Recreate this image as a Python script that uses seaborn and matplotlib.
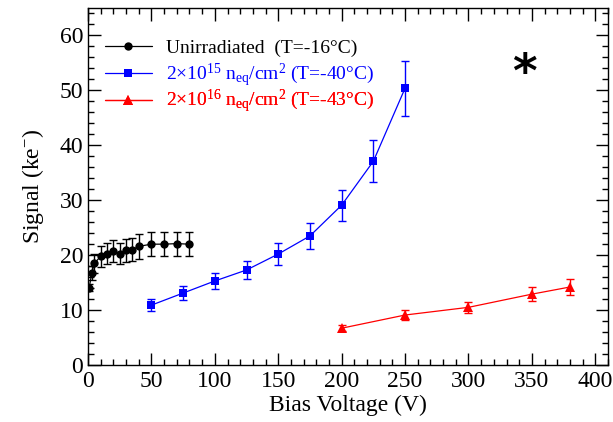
import numpy as np
import pandas as pd
import matplotlib
matplotlib.use("Agg")
import matplotlib.pyplot as plt
from matplotlib.ticker import MultipleLocator
import seaborn as sns

# ---- data ----
unirr_v = [1, 3, 5, 10, 15, 20, 25, 30, 35, 40, 50, 60, 70, 80]
unirr_s = [14.1, 16.8, 18.5, 19.8, 20.3, 20.7, 20.3, 20.9, 21.0, 21.6, 22.0, 22.0, 22.1, 22.0]
unirr_e = [0.7, 1.3, 1.7, 1.9, 2.0, 2.0, 2.0, 2.1, 2.1, 2.3, 2.2, 2.2, 2.2, 2.2]

f15_v = [50, 75, 100, 125, 150, 175, 200, 225, 250]
f15_s = [10.9, 13.1, 15.3, 17.3, 20.2, 23.5, 29.1, 37.1, 50.4]
f15_e = [1.1, 1.3, 1.5, 1.7, 2.0, 2.3, 2.8, 3.8, 5.0]

f16_v = [200, 250, 300, 350, 380]
f16_s = [6.7, 9.1, 10.5, 12.9, 14.2]
f16_e = [0.5, 0.9, 1.0, 1.3, 1.5]

labels = ["Unirradiated  (T=-16\u00b0C)",
          "2\u00d710$^{15}$ n$_{\\mathrm{eq}}$/cm$^{2}$ (T=-40\u00b0C)",
          "2\u00d710$^{16}$ n$_{\\mathrm{eq}}$/cm$^{2}$ (T=-43\u00b0C)"]
colors = ["black", "#0000ff", "#ff0000"]
markers = ["o", "s", "^"]
msizes = [6, 6, 7]

sns.set_theme(style="ticks")
plt.rcParams["font.family"] = ["Liberation Serif", "DejaVu Serif"]
plt.rcParams["mathtext.fontset"] = "custom"
plt.rcParams["mathtext.rm"] = "Liberation Serif"
plt.rcParams["mathtext.it"] = "Liberation Serif:italic"
plt.rcParams["mathtext.bf"] = "Liberation Serif:bold"
plt.rcParams["text.color"] = "black"
plt.rcParams["axes.labelcolor"] = "black"

fig = plt.figure(figsize=(6.13, 4.22), dpi=100)
ax = fig.add_axes([88/613, 57/422, 520/613, 357/422])

series = [(unirr_v, unirr_s, unirr_e), (f15_v, f15_s, f15_e), (f16_v, f16_s, f16_e)]
for (v, s, e), lab, c, m, ms in zip(series, labels, colors, markers, msizes):
    df = pd.DataFrame({"V": v, "S": s, "E": e})
    sns.lineplot(data=df, x="V", y="S", ax=ax, color=c, marker=m, markersize=ms,
                 markeredgewidth=0, linewidth=0.9, label=lab, zorder=3)
    ax.errorbar(df["V"], df["S"], yerr=df["E"], fmt="none", ecolor=c,
                elinewidth=1.0, capsize=3, capthick=1.0, zorder=2)

ax.set_xlim(0, 410)
ax.set_ylim(0, 65)
ax.xaxis.set_major_locator(MultipleLocator(50))
ax.xaxis.set_minor_locator(MultipleLocator(10))
ax.yaxis.set_major_locator(MultipleLocator(10))
ax.yaxis.set_minor_locator(MultipleLocator(2))
ax.tick_params(which="both", direction="in", top=True, right=True, width=1.0,
               labelsize=17, colors="black")
ax.tick_params(which="major", length=9)
ax.tick_params(which="minor", length=4.5)
ax.tick_params(axis="x", pad=4)
for sp in ax.spines.values():
    sp.set_linewidth(1.0)
    sp.set_color("black")

ax.set_xlabel("Bias Voltage (V)", fontsize=17, labelpad=2)
ax.set_ylabel("Signal (ke$^{-}$)", fontsize=17, labelpad=10)

# one legend row per series, so rows are evenly spaced
handles, labs = ax.get_legend_handles_labels()
ax.get_legend().remove() if ax.get_legend() else None
row_y = [0.888, 0.812, 0.738]
for h, l, y in zip(handles, labs, row_y):
    leg = ax.legend([h], [l], loc="center left", bbox_to_anchor=(0.033, y),
                    borderaxespad=0, borderpad=0, frameon=False, fontsize=14,
                    handlelength=2.4, handletextpad=0.75, labelcolor="linecolor")
    ax.add_artist(leg)

ax.text(0.84, 0.815, "*", transform=ax.transAxes, fontsize=34, fontweight="bold",
        ha="center", va="center", family="DejaVu Sans", color="black")

fig.savefig("out.png", dpi=100)
